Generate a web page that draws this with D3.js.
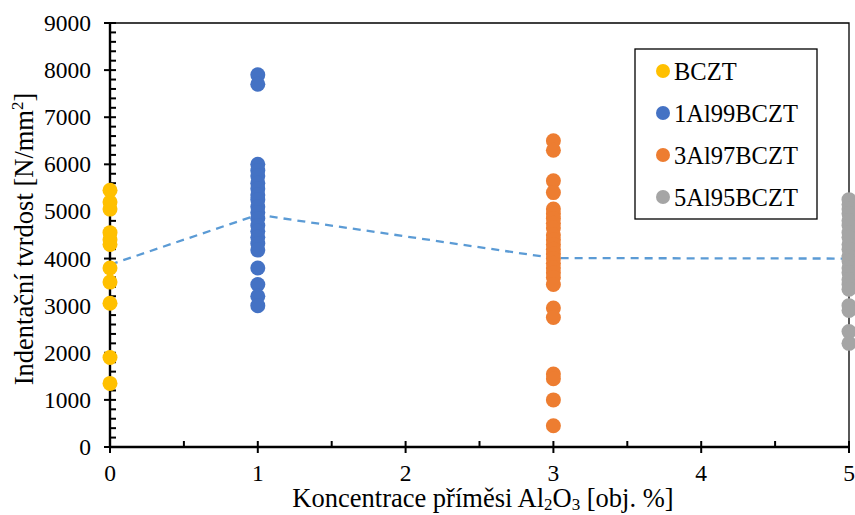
<!DOCTYPE html>
<html>
<head>
<meta charset="utf-8">
<script src="https://cdn.jsdelivr.net/npm/d3@7"></script>
<style>
  html, body { margin: 0; padding: 0; background: #fff; }
  svg { display: block; }
</style>
</head>
<body>
<svg id="chart" width="855" height="515" font-family="'Liberation Serif', 'Times New Roman', serif"></svg>
<script>
// Hardness measurements (N/mm²) per Al2O3 content
const seriesNames = ["BCZT", "1Al99BCZT", "3Al97BCZT", "5Al95BCZT"];
const seriesX = [0, 1, 3, 5];
const seriesColors = ["#FFC000", "#4472C4", "#ED7D31", "#A5A5A5"];

const bczt = [5450, 5200, 5050, 4550, 4400, 4300, 3800, 3500, 3050, 1900, 1350];
const al1 = [7900, 7700, 6000, 5870, 5750, 5600, 5480, 5350, 5250, 5100, 4980, 4850,
             4700, 4580, 4450, 4320, 4180, 3800, 3450, 3200, 3000];
const al3 = [6500, 6300, 5650, 5400, 5050, 4950, 4850, 4750, 4650, 4500, 4400, 4300,
             4200, 4100, 4000, 3900, 3800, 3700, 3600, 3450, 2950, 2750, 1550, 1450, 1000, 450];
const al5 = [5250, 5150, 5050, 4950, 4800, 4700, 4550, 4450, 4300, 4200, 4050, 3950,
             3800, 3700, 3550, 3450, 3350, 3000, 2900, 2450, 2200];
const seriesValues = [bczt, al1, al3, al5];

// Mean hardness trend line
const trendX = [0, 1, 3, 5];
const trendY = [3870, 4930, 4010, 4000];

const xTicks = [0, 1, 2, 3, 4, 5];
const yTicks = [0, 1000, 2000, 3000, 4000, 5000, 6000, 7000, 8000, 9000];

const FONT = "Liberation Serif, Times New Roman, serif";
const svg = d3.select("#chart");
const plotL = 110, plotR = 849, plotT = 23, plotB = 447;

const x = d3.scaleLinear().domain([0, 5]).range([plotL, plotR]);
const y = d3.scaleLinear().domain([0, 9000]).range([plotB, plotT]);

// plot area frame (top and right edges)
svg.append("path")
  .attr("d", `M${plotL},${plotT}H${plotR}V${plotB}`)
  .attr("fill", "none").attr("stroke", "#000").attr("stroke-width", 1.3);

// trend line behind markers
svg.append("path")
  .datum(trendX.map((d, i) => [d, trendY[i]]))
  .attr("d", d3.line().x(d => x(d[0])).y(d => y(d[1])))
  .attr("fill", "none")
  .attr("stroke", "#5B9BD5")
  .attr("stroke-width", 2.3)
  .attr("stroke-dasharray", "8,6");

// x axis: major ticks cross the line, minor ticks point inward
const xMinor = d3.range(0.5, 5, 1);
const gx = svg.append("g");
gx.selectAll("line.maj").data(xTicks).join("line")
  .attr("x1", d => x(d)).attr("x2", d => x(d))
  .attr("y1", plotB - 6).attr("y2", plotB + 6)
  .attr("stroke", "#000").attr("stroke-width", 2);
gx.selectAll("line.min").data(xMinor).join("line")
  .attr("x1", d => x(d)).attr("x2", d => x(d))
  .attr("y1", plotB - 6).attr("y2", plotB)
  .attr("stroke", "#000").attr("stroke-width", 2);
gx.append("line")
  .attr("x1", plotL - 1).attr("x2", plotR + 1)
  .attr("y1", plotB).attr("y2", plotB)
  .attr("stroke", "#000").attr("stroke-width", 2.4);
gx.selectAll("text.tick").data(xTicks).join("text")
  .attr("x", d => x(d)).attr("y", 481)
  .attr("text-anchor", "middle")
  .attr("font-family", FONT)
  .attr("font-size", 23.5)
  .text(d => d);

// y axis
const yMinor = d3.range(200, 9000, 200).filter(v => v % 1000 !== 0);
const gy = svg.append("g");
gy.selectAll("line.maj").data(yTicks).join("line")
  .attr("x1", plotL - 6).attr("x2", plotL + 6)
  .attr("y1", d => y(d)).attr("y2", d => y(d))
  .attr("stroke", "#000").attr("stroke-width", 2);
gy.selectAll("line.min").data(yMinor).join("line")
  .attr("x1", plotL).attr("x2", plotL + 6)
  .attr("y1", d => y(d)).attr("y2", d => y(d))
  .attr("stroke", "#000").attr("stroke-width", 2);
gy.append("line")
  .attr("x1", plotL).attr("x2", plotL)
  .attr("y1", plotT - 1).attr("y2", plotB + 1)
  .attr("stroke", "#000").attr("stroke-width", 2.4);
gy.selectAll("text.tick").data(yTicks).join("text")
  .attr("x", 91).attr("y", d => y(d) + 8)
  .attr("text-anchor", "end")
  .attr("font-family", FONT)
  .attr("font-size", 23.5)
  .text(d => d);

// markers
seriesValues.forEach((vals, i) => {
  svg.append("g").selectAll("circle").data(vals).join("circle")
    .attr("cx", x(seriesX[i]))
    .attr("cy", d => y(d))
    .attr("r", 7.5)
    .attr("fill", seriesColors[i]);
});

// axis titles
const xt = svg.append("text")
  .attr("x", 483).attr("y", 507)
  .attr("text-anchor", "middle")
  .attr("font-family", FONT)
  .attr("font-size", 26.5);
xt.append("tspan").text("Koncentrace příměsi Al");
xt.append("tspan").attr("font-size", 17).attr("dy", 3).text("2");
xt.append("tspan").attr("dy", -3).text("O");
xt.append("tspan").attr("font-size", 17).attr("dy", 3).text("3");
xt.append("tspan").attr("dy", -3).text(" [obj. %]");

const yt = svg.append("text")
  .attr("transform", "translate(33,239) rotate(-90)")
  .attr("text-anchor", "middle")
  .attr("font-family", FONT)
  .attr("font-size", 26.5);
yt.append("tspan").text("Indentační tvrdost [N/mm");
yt.append("tspan").attr("font-size", 17).attr("dy", -10).text("2");
yt.append("tspan").attr("dy", 10).text("]");

// legend
const lg = svg.append("g");
lg.append("rect")
  .attr("x", 635).attr("y", 49).attr("width", 182).attr("height", 170)
  .attr("fill", "#fff").attr("stroke", "#000").attr("stroke-width", 1.3);
seriesNames.forEach((name, i) => {
  const cy = 71 + i * 42;
  lg.append("circle").attr("cx", 663).attr("cy", cy).attr("r", 7).attr("fill", seriesColors[i]);
  lg.append("text").attr("x", 674).attr("y", cy + 8.5)
    .attr("font-family", FONT).attr("font-size", 24.5).text(name);
});
</script>
</body>
</html>
